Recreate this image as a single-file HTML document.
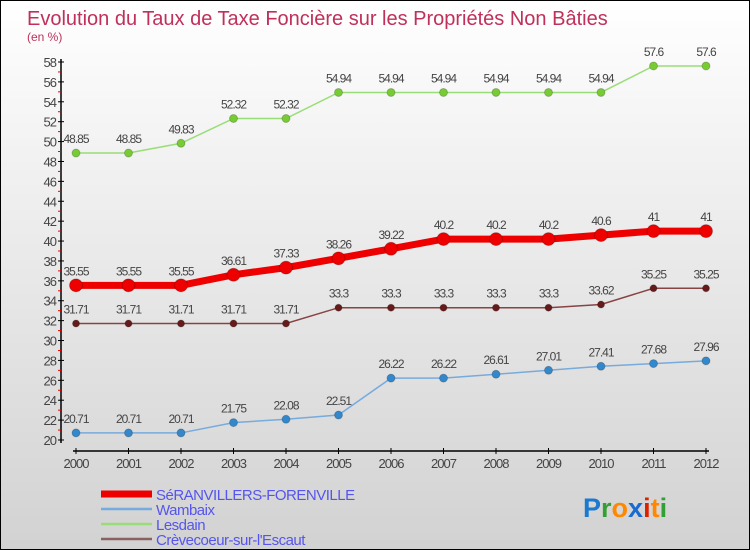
<!DOCTYPE html>
<html><head><meta charset="utf-8"><style>
body{margin:0;}
#wrap{width:748px;height:548px;border:1px solid #000;background:linear-gradient(#fff,#f1f1f1 30%,#d2d2d2);position:relative;overflow:hidden;font-family:"Liberation Sans",sans-serif;}
</style></head><body>
<div id="wrap">
<svg id="svg" width="748" height="548" xmlns="http://www.w3.org/2000/svg"></svg>
</div>
<script>
const years=[2000,2001,2002,2003,2004,2005,2006,2007,2008,2009,2010,2011,2012];
const seranvillers=[35.55,35.55,35.55,36.61,37.33,38.26,39.22,40.2,40.2,40.2,40.6,41,41];
const wambaix=[20.71,20.71,20.71,21.75,22.08,22.51,26.22,26.22,26.61,27.01,27.41,27.68,27.96];
const lesdain=[48.85,48.85,49.83,52.32,52.32,54.94,54.94,54.94,54.94,54.94,54.94,57.6,57.6];
const crevecoeur=[31.71,31.71,31.71,31.71,31.71,33.3,33.3,33.3,33.3,33.3,33.62,35.25,35.25];
const yTicks=[20,22,24,26,28,30,32,34,36,38,40,42,44,46,48,50,52,54,56,58];
const svg=document.getElementById('svg');
const NS='http://www.w3.org/2000/svg';
function X(i){return 75+i*52.5;}
function Y(v){return 439-(v-20)*(378/38);}
function mk(t,a,p){const e=document.createElementNS(NS,t);for(const k in a)e.setAttribute(k,a[k]);(p||svg).appendChild(e);return e;}
let t=mk('text',{x:26,y:24,'font-size':20,fill:'#c0305a'});t.textContent='Evolution du Taux de Taxe Foncière sur les Propriétés Non Bâties';


t=mk('text',{x:26,y:40,'font-size':12,fill:'#c0305a'});t.textContent='(en %)';


// axes
let a=mk('line',{x1:60,y1:58,x2:60,y2:442,stroke:'#000','stroke-width':1.5});


a=mk('line',{x1:72,y1:450,x2:708,y2:450,stroke:'#000','stroke-width':1.5});


yTicks.forEach(v=>{const y=Y(v);mk('line',{x1:57,y1:y,x2:63,y2:y,stroke:'#000'});
 if(v<58)mk('line',{x1:57,y1:Y(v+1),x2:60,y2:Y(v+1),stroke:'#e00'});
 const l=mk('text',{x:55,y:y+5,'font-size':13,fill:'#444','text-anchor':'end','letter-spacing':'-1'});l.textContent=v;
 
 });
years.forEach((yr,i)=>{const x=X(i);mk('line',{x1:x,y1:447,x2:x,y2:453,stroke:'#000'});
 const l=mk('text',{x:x,y:467,'font-size':13,fill:'#444','text-anchor':'middle','letter-spacing':'-1'});l.textContent=yr;
 
 });
function series(vals,color,w,r,dot,name){
 const g=mk('g',{});
 
 
 mk('polyline',{points:vals.map((v,i)=>X(i)+','+Y(v)).join(' '),fill:'none',stroke:color,'stroke-width':w},g);
 vals.forEach((v,i)=>{const c=mk('circle',{cx:X(i),cy:Y(v),r:r,fill:dot,stroke:'rgba(0,0,0,0.2)'},g);
  
  
  const l=mk('text',{x:X(i),y:Y(v)-10,'font-size':12,fill:'#444','text-anchor':'middle','letter-spacing':'-1'},g);l.textContent=v;
  
  });
}
series(lesdain,'#99dd77',1.5,4,'#77cc33','lesdain-series');
series(crevecoeur,'#884444',1.5,3.5,'#661a1a','crevecoeur-series');
series(wambaix,'#77aadd',1.5,4,'#3388cc','wambaix-series');
series(seranvillers,'#ee0000',7,6.5,'#ee0000','seranvillers-series');
const leg=[['SéRANVILLERS-FORENVILLE','#ee0000',7],['Wambaix','#77aadd',2.5],['Lesdain','#99dd77',2.5],['Crèvecoeur-sur-l\'Escaut','#8a6060',2.5]];
leg.forEach((d,i)=>{const y=493+i*15;const g=mk('g',{});
 
 
 mk('line',{x1:100,y1:y,x2:151,y2:y,stroke:d[1],'stroke-width':d[2]},g);
 const l=mk('text',{x:155,y:y+6,'font-size':15,fill:'#5555ee','letter-spacing':'-0.5'},g);l.textContent=d[0];});
const lg=mk('text',{x:582,y:516,'font-size':27,'font-weight':'bold'});


[['P','#1a7ad0'],['r','#33a033'],['o','#ff8800'],['x','#1a6ad0'],['i','#dd2200'],['t','#ff8800'],['i','#33a033']].forEach(c=>{const s=mk('tspan',{fill:c[1]},lg);s.textContent=c[0];});
</script>
</body></html>
